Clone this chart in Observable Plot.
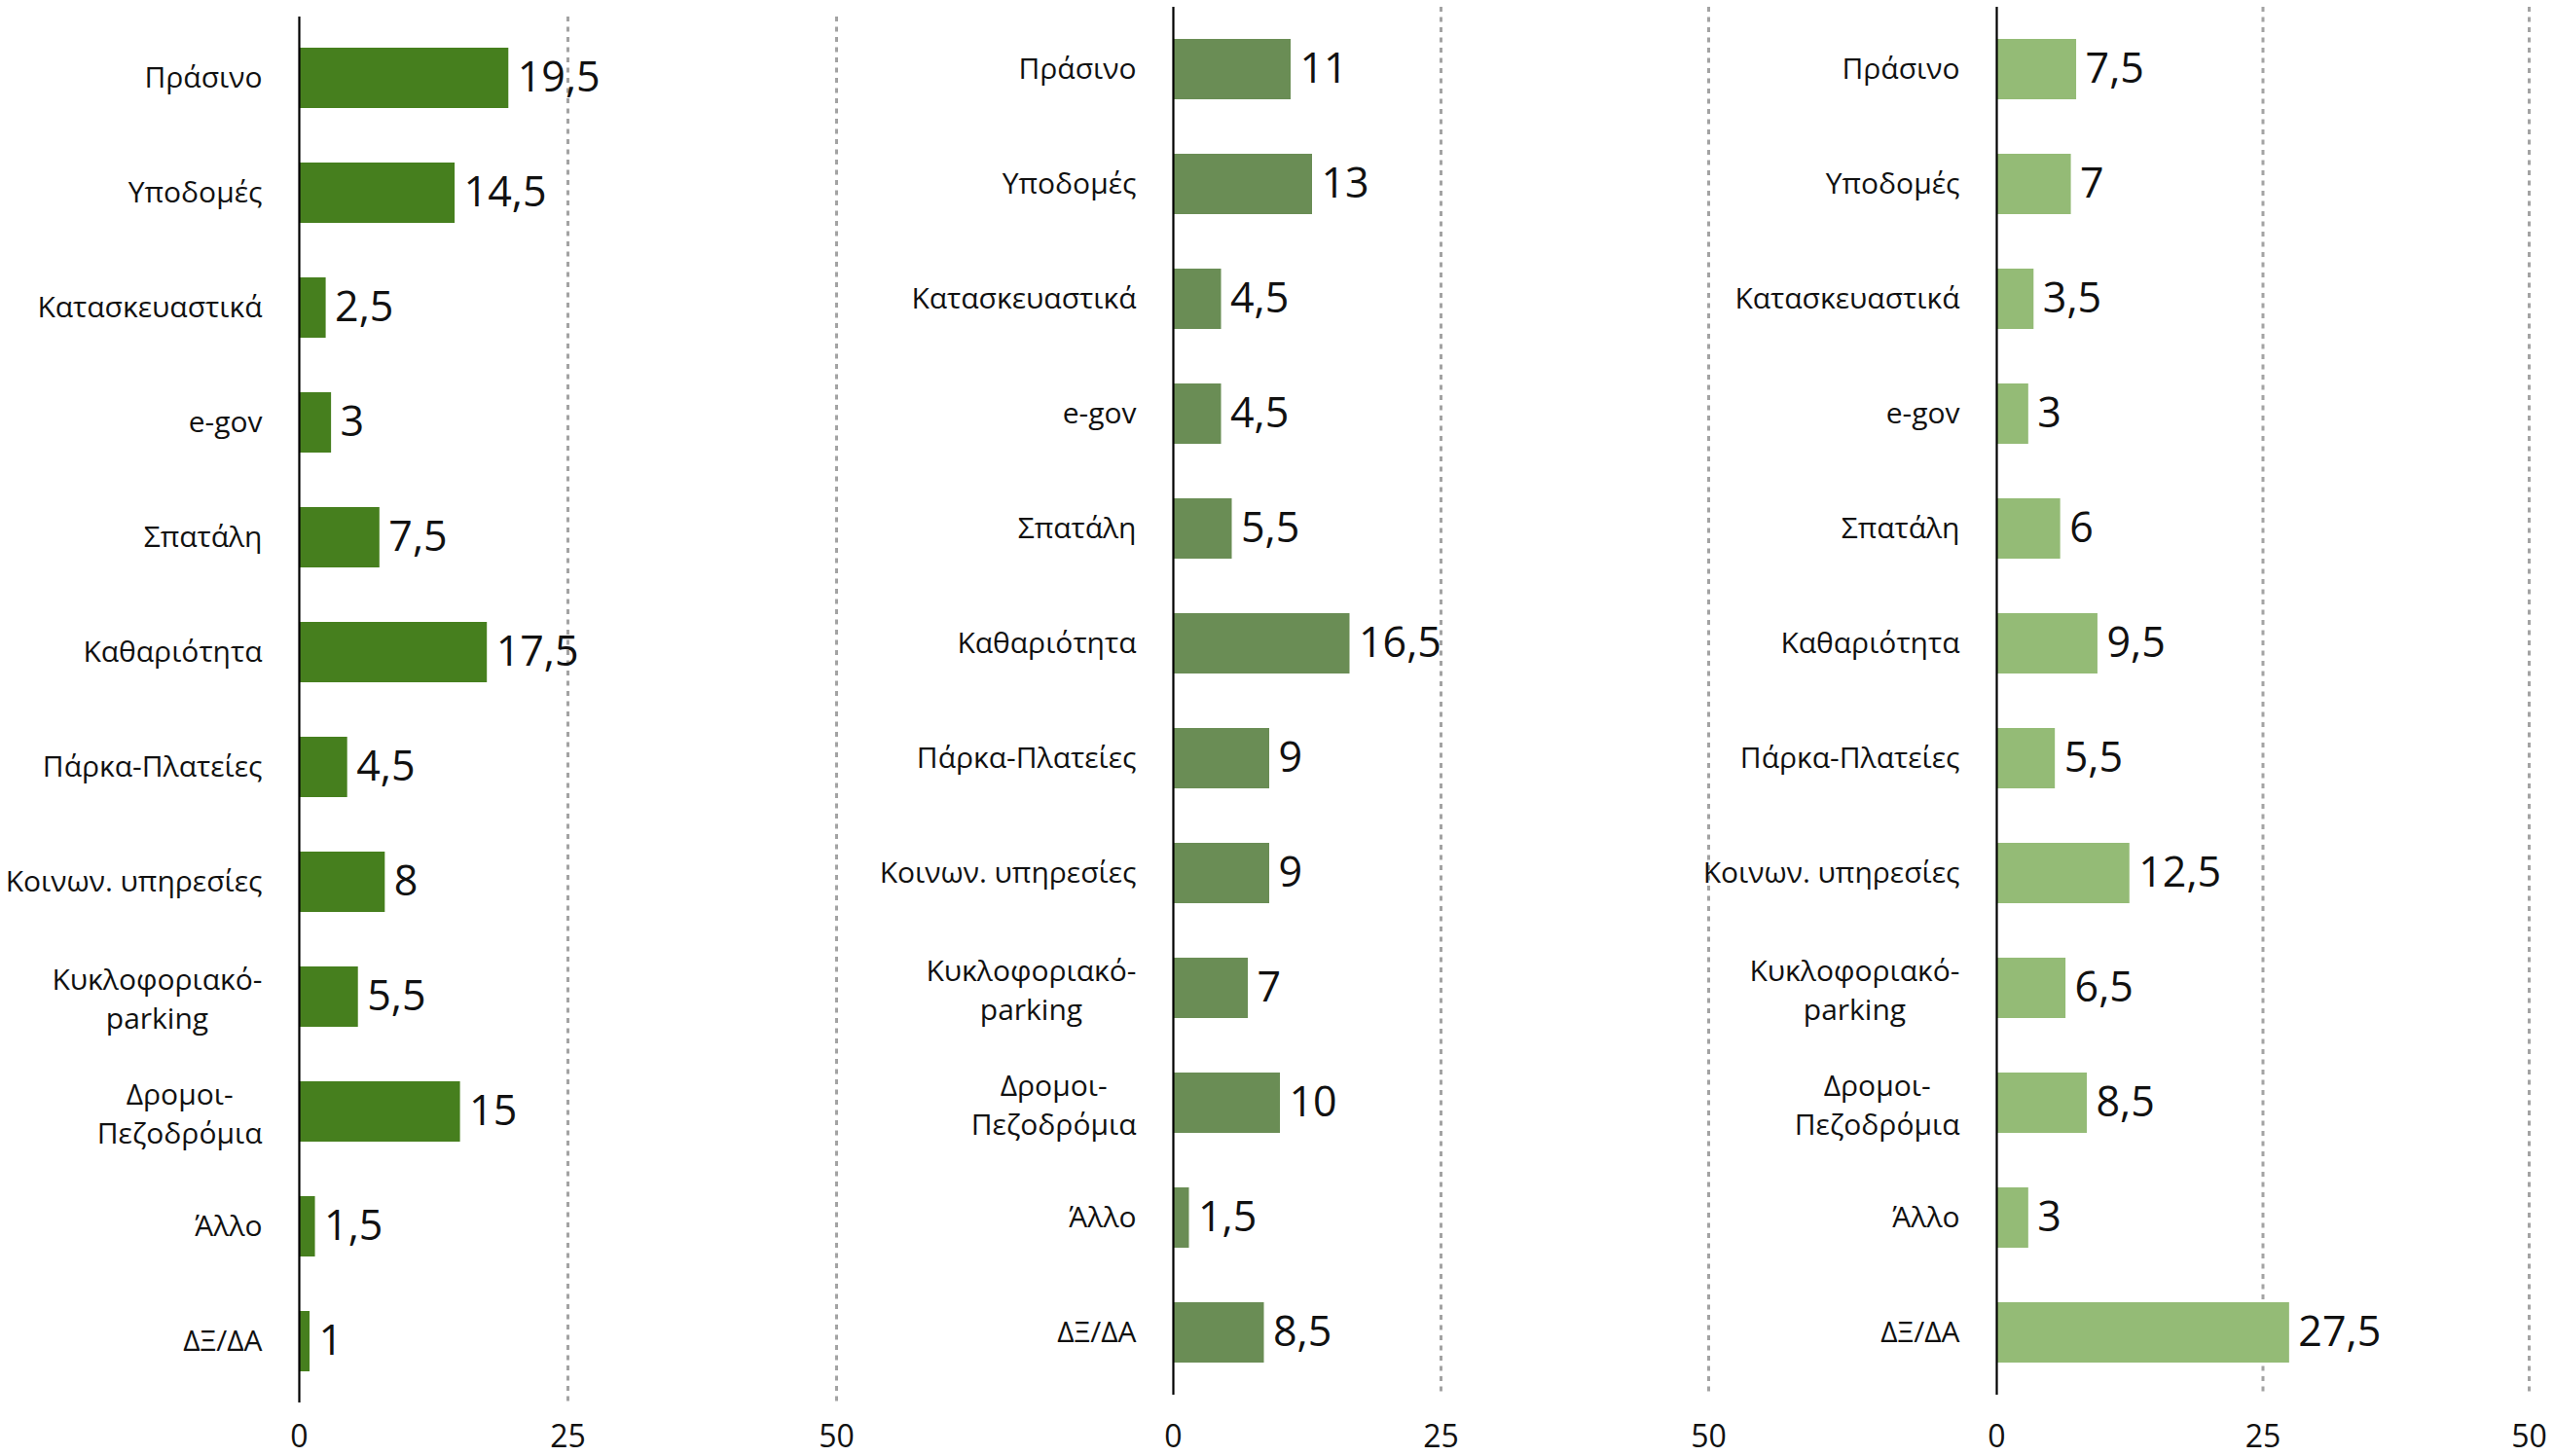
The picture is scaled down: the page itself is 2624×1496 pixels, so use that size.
<!DOCTYPE html>
<html>
<head>
<meta charset="utf-8">
<script src="https://cdn.jsdelivr.net/npm/d3@7"></script>
<script src="https://cdn.jsdelivr.net/npm/@observablehq/plot@0.6"></script>
<style>
  html, body { margin: 0; padding: 0; background: #fff; }
  #root { position: relative; width: 2624px; height: 1496px; overflow: hidden; background: #fff; }
  .panel { position: absolute; top: 0; overflow: visible; }
</style>
</head>
<body>
<div id="root"></div>
<script>
// ---- Data ----
const categories = [
  "Πράσινο",
  "Υποδομές",
  "Κατασκευαστικά",
  "e-gov",
  "Σπατάλη",
  "Καθαριότητα",
  "Πάρκα-Πλατείες",
  "Κοινων. υπηρεσίες",
  "Κυκλοφοριακό-\nparking",
  "Δρομοι-\nΠεζοδρόμια",
  "Άλλο",
  "ΔΞ/ΔΑ"
];
const valuesA = [19.5, 14.5, 2.5, 3, 7.5, 17.5, 4.5, 8, 5.5, 15, 1.5, 1];
const valuesB = [11, 13, 4.5, 4.5, 5.5, 16.5, 9, 9, 7, 10, 1.5, 8.5];
const valuesC = [7.5, 7, 3.5, 3, 6, 9.5, 5.5, 12.5, 6.5, 8.5, 3, 27.5];
const xTicks = [0, 25, 50];
const gridTicks = [25, 50];
const colors = ["#467f1e", "#6a8d55", "#94bb76"];

// ---- Layout / style ----
const FONT = "'Open Sans', sans-serif";
const LABEL_SIZE = 30;
const fmt = v => String(v).replace(".", ",");

const ctx = document.createElement("canvas").getContext("2d");
ctx.font = `${LABEL_SIZE}px 'Open Sans'`;
const textWidth = s => ctx.measureText(s).width;

const panels = [
  {left: 0,    width: 900, marginLeft: 307, marginRight: 41, marginTop: 17, marginBottom: 55, paddingOuter: 0.27, values: valuesA, color: colors[0], tickPadding: 23},
  {left: 900,  width: 900, marginLeft: 305, marginRight: 45, marginTop: 7,  marginBottom: 63, paddingOuter: 0.26, values: valuesB, color: colors[1], tickPadding: 31},
  {left: 1800, width: 824, marginLeft: 251, marginRight: 26, marginTop: 7,  marginBottom: 63, paddingOuter: 0.26, values: valuesC, color: colors[2], tickPadding: 31}
];

const root = document.getElementById("root");

for (const p of panels) {
  const rows = categories.map((c, i) => ({category: c, value: p.values[i]}));
  const single = rows.filter(d => !d.category.includes("\n"));
  const multi = rows.filter(d => d.category.includes("\n"));

  const multiMarks = multi.map(d => {
    const w = Math.max(...d.category.split("\n").map(textWidth));
    return Plot.text([d], {
      y: "category", text: "category", frameAnchor: "left",
      textAnchor: "middle", dx: -38 - w / 2, fontSize: LABEL_SIZE,
      lineHeight: 1.33, fill: "#111"
    });
  });

  const chart = Plot.plot({
    width: p.width,
    height: 1496,
    marginLeft: p.marginLeft,
    marginRight: p.marginRight,
    marginTop: p.marginTop,
    marginBottom: p.marginBottom,
    style: {fontFamily: FONT, fontSize: "32px", color: "#111", background: "transparent", overflow: "visible"},
    x: {domain: [0, 50], ticks: xTicks, tickSize: 0, tickPadding: p.tickPadding, label: null, tickFormat: fmt},
    y: {domain: categories, axis: null, paddingInner: 0.475, paddingOuter: p.paddingOuter},
    marks: [
      Plot.ruleX(gridTicks, {stroke: "#a3a3a3", strokeWidth: 3, strokeDasharray: "5,5.5"}),
      Plot.barX(rows, {x: "value", y: "category", fill: p.color}),
      Plot.ruleX([0], {stroke: "#000", strokeWidth: 2.2}),
      Plot.text(rows, {x: "value", y: "category", text: d => fmt(d.value), textAnchor: "start", dx: 9, fontSize: 43, fill: "#111"}),
      Plot.text(single, {y: "category", text: "category", frameAnchor: "left", textAnchor: "end", dx: -38, fontSize: LABEL_SIZE, fill: "#111"}),
      ...multiMarks
    ]
  });
  chart.classList.add("panel");
  chart.style.left = p.left + "px";
  root.appendChild(chart);
}
</script>
</body>
</html>
